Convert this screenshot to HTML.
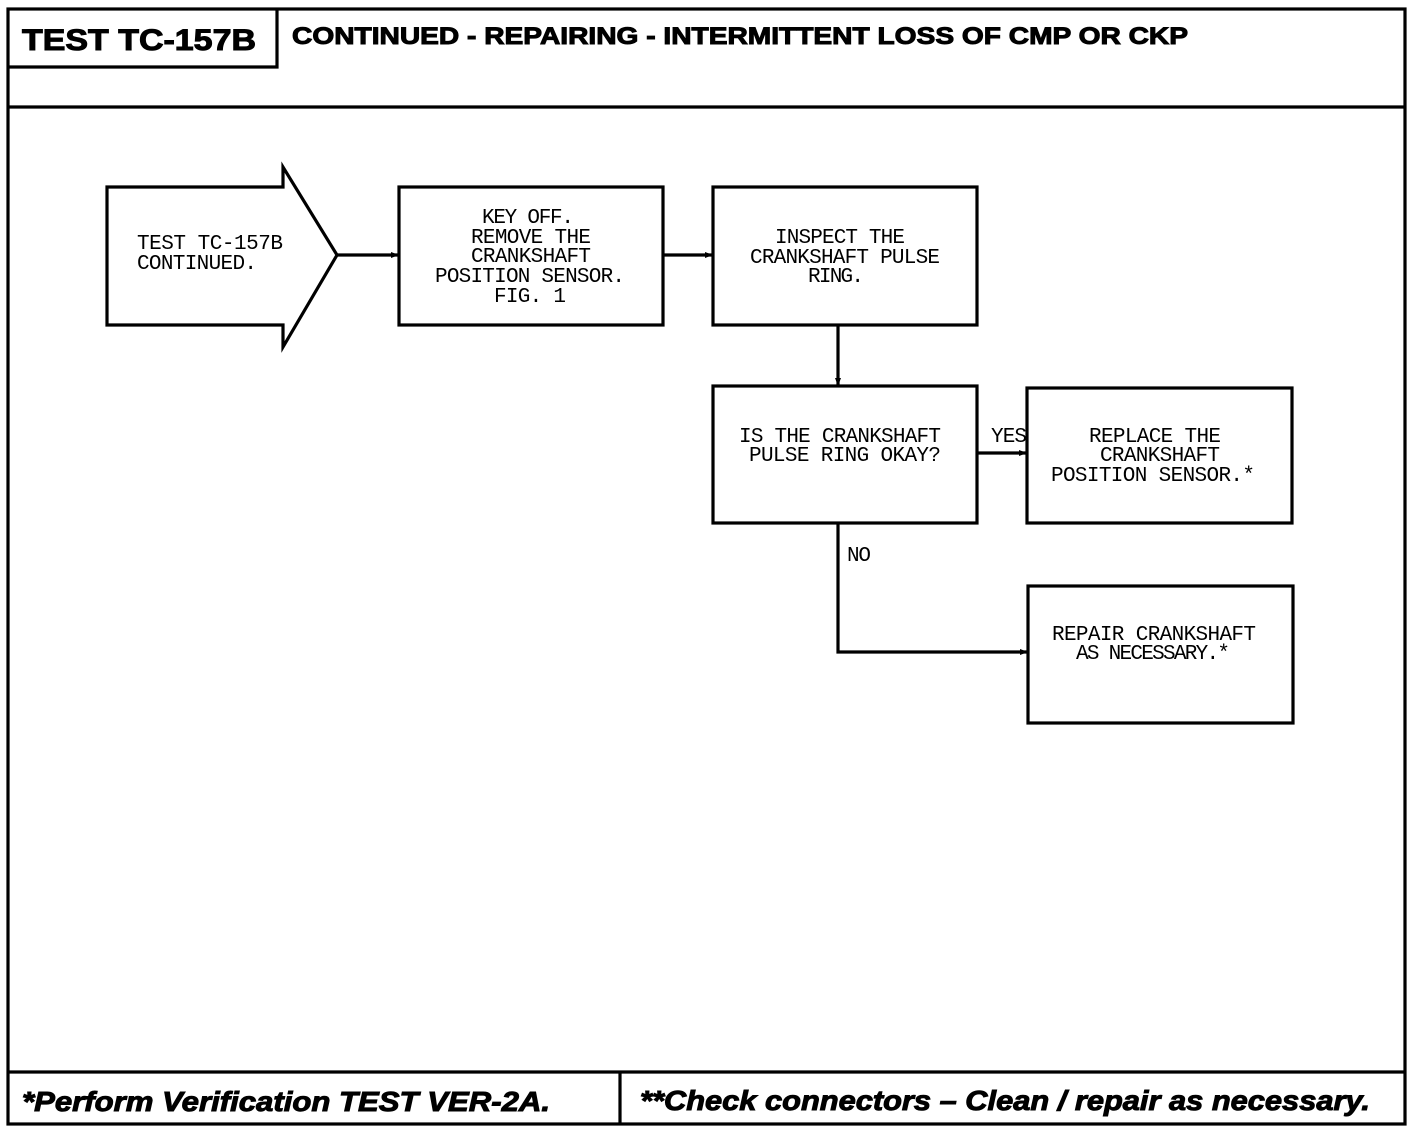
<!DOCTYPE html>
<html><head><meta charset="utf-8"><style>
html,body{margin:0;padding:0;background:#fff;}
svg{display:block}
.m{font-family:"Liberation Mono",monospace;font-size:21px;fill:#000;}
.h{font-family:"Liberation Sans",sans-serif;font-weight:bold;fill:#000;stroke:#000;stroke-width:1;}
</style></head><body>
<svg width="1424" height="1134" viewBox="0 0 1424 1134" xmlns="http://www.w3.org/2000/svg">
<defs><marker id="a" markerWidth="8" markerHeight="8" refX="7" refY="4" orient="auto" markerUnits="userSpaceOnUse"><path d="M0,1 L8,4 L0,7 Z" fill="#000"/></marker></defs>
<g fill="none" stroke="#000" stroke-width="3.2">
<rect x="8" y="9" width="1397" height="1115"/>
<line x1="8" y1="107" x2="1405" y2="107"/>
<line x1="8" y1="1072" x2="1405" y2="1072"/>
<line x1="620" y1="1072" x2="620" y2="1124"/>
<polyline points="8,67 277,67 277,9"/>
<polygon points="107,187 283,187 283,167 337,255 283,347 283,325 107,325"/>
<rect x="399" y="187" width="264" height="138"/>
<rect x="713" y="187" width="264" height="138"/>
<rect x="713" y="386" width="264" height="137"/>
<rect x="1027" y="388" width="265" height="135"/>
<rect x="1028" y="586" width="265" height="137"/>
<line x1="337" y1="255" x2="398" y2="255" marker-end="url(#a)"/>
<line x1="663" y1="255" x2="712" y2="255" marker-end="url(#a)"/>
<line x1="838" y1="325" x2="838" y2="385" marker-end="url(#a)"/>
<line x1="977" y1="453" x2="1026" y2="453" marker-end="url(#a)"/>
<polyline points="838,523 838,652 1027,652" marker-end="url(#a)"/>
</g>
<text class="h" x="22" y="50" font-size="30" textLength="234" lengthAdjust="spacingAndGlyphs">TEST TC-157B</text>
<text class="h" x="292" y="44" font-size="24" textLength="896" lengthAdjust="spacingAndGlyphs">CONTINUED - REPAIRING - INTERMITTENT LOSS OF CMP OR CKP</text>
<text class="h" x="22" y="1111" font-size="28" font-style="italic" textLength="528" lengthAdjust="spacingAndGlyphs">*Perform Verification TEST VER-2A.</text>
<text class="h" x="640" y="1110" font-size="28" font-style="italic" textLength="730" lengthAdjust="spacingAndGlyphs">**Check connectors – Clean / repair as necessary.</text>
<g class="m" text-anchor="middle" lengthAdjust="spacingAndGlyphs">
<text x="210" y="249" textLength="146">TEST TC-157B</text>
<text x="197" y="269" textLength="120">CONTINUED.</text>
<text x="528" y="223" textLength="92">KEY OFF.</text>
<text x="531" y="243" textLength="120">REMOVE THE</text>
<text x="531" y="262" textLength="120">CRANKSHAFT</text>
<text x="530" y="282" textLength="190">POSITION SENSOR.</text>
<text x="530" y="302" textLength="72">FIG. 1</text>
<text x="840" y="243" textLength="130">INSPECT THE</text>
<text x="845" y="263" textLength="190">CRANKSHAFT PULSE</text>
<text x="836" y="282" textLength="56">RING.</text>
<text x="840" y="442" textLength="202">IS THE CRANKSHAFT</text>
<text x="845" y="461" textLength="192">PULSE RING OKAY?</text>
<text x="1155" y="442" textLength="132">REPLACE THE</text>
<text x="1160" y="461" textLength="120">CRANKSHAFT</text>
<text x="1153" y="481" textLength="204">POSITION SENSOR.*</text>
<text x="1154" y="640" textLength="204">REPAIR CRANKSHAFT</text>
<text x="1153" y="659" textLength="154">AS NECESSARY.*</text>
<text x="1009" y="442" textLength="36">YES</text>
<text x="859" y="561" textLength="24">NO</text>
</g>
</svg>
</body></html>
